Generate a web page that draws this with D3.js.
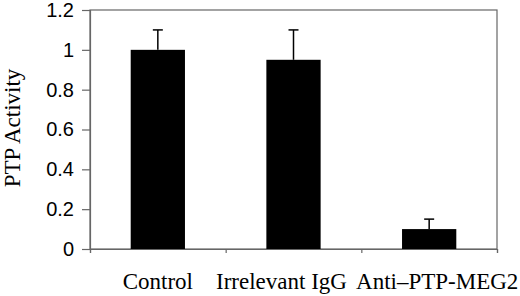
<!DOCTYPE html>
<html><head><meta charset="utf-8">
<script src="https://cdn.jsdelivr.net/npm/d3@7"></script>
<style>body{margin:0;background:#fff}</style>
</head><body>
<svg id="c" width="520" height="296"></svg>
<script>
const categories = ["Control", "Irrelevant IgG", "Anti\u2013PTP-MEG2"];
const values = [1.0, 0.95, 0.1];
const errors = [0.1, 0.15, 0.05];
const yTicks = [0, 0.2, 0.4, 0.6, 0.8, 1, 1.2];

const svg = d3.select("#c");
const m = {l: 90, r: 23, t: 10, b: 47};
const W = 520, H = 296;
const x = d3.scaleBand().domain(categories).range([m.l, W - m.r]).paddingInner(0.6).paddingOuter(0.3);
const y = d3.scaleLinear().domain([0, 1.2]).range([H - m.b, m.t]);
const axisColor = "#666";
const labelShift = [0, -12, 8];

// frame
svg.append("rect").attr("x", m.l).attr("y", m.t).attr("width", W - m.r - m.l).attr("height", H - m.b - m.t)
  .attr("fill", "none").attr("stroke", axisColor).attr("stroke-width", 1.2);

// y axis
const ya = svg.append("g").attr("transform", `translate(${m.l},0)`)
  .call(d3.axisLeft(y).tickValues(yTicks).tickSize(8).tickPadding(8).tickFormat(d => d3.format("")(d)));
ya.select(".domain").attr("stroke", axisColor).attr("stroke-width", 1.2);
ya.selectAll(".tick line").attr("stroke", axisColor).attr("stroke-width", 1.2);
ya.selectAll("text").attr("font-family", "Liberation Sans, Arial, sans-serif").attr("font-size", 20).attr("fill", "#000");

// x axis with ticks at category boundaries
const xb = d3.scaleLinear().domain([0, categories.length]).range([m.l, W - m.r]);
const xa = svg.append("g").attr("transform", `translate(0,${H - m.b})`)
  .call(d3.axisBottom(xb).tickValues(d3.range(0, categories.length + 1)).tickSize(4).tickFormat(""));
xa.select(".domain").attr("stroke", axisColor).attr("stroke-width", 1.2);
xa.selectAll(".tick line").attr("stroke", axisColor).attr("stroke-width", 1.2);

// category labels
svg.append("g").selectAll("text").data(categories).join("text")
  .attr("x", (d, i) => x(d) + x.bandwidth() / 2 + labelShift[i]).attr("y", 289)
  .attr("text-anchor", "middle").attr("font-family", "Liberation Serif, Times New Roman, serif")
  .attr("font-size", 23).attr("fill", "#000").text(d => d);

// bars
svg.append("g").selectAll("rect").data(categories).join("rect")
  .attr("x", d => x(d)).attr("width", x.bandwidth())
  .attr("y", (d, i) => y(values[i])).attr("height", (d, i) => y(0) - y(values[i]))
  .attr("fill", "#000");

// error bars
const eg = svg.append("g").attr("stroke", "#000").attr("stroke-width", 1.5);
categories.forEach((c, i) => {
  const cx = x(c) + x.bandwidth() / 2;
  eg.append("line").attr("x1", cx).attr("x2", cx).attr("y1", y(values[i])).attr("y2", y(values[i] + errors[i]));
  eg.append("line").attr("x1", cx - 5).attr("x2", cx + 5).attr("y1", y(values[i] + errors[i])).attr("y2", y(values[i] + errors[i]));
});

// y title
svg.append("text").attr("transform", `translate(20,128) rotate(-90)`)
  .attr("text-anchor", "middle").attr("font-family", "Liberation Serif, Times New Roman, serif")
  .attr("font-size", 23).attr("fill", "#000").text("PTP Activity");
</script>
</body></html>
